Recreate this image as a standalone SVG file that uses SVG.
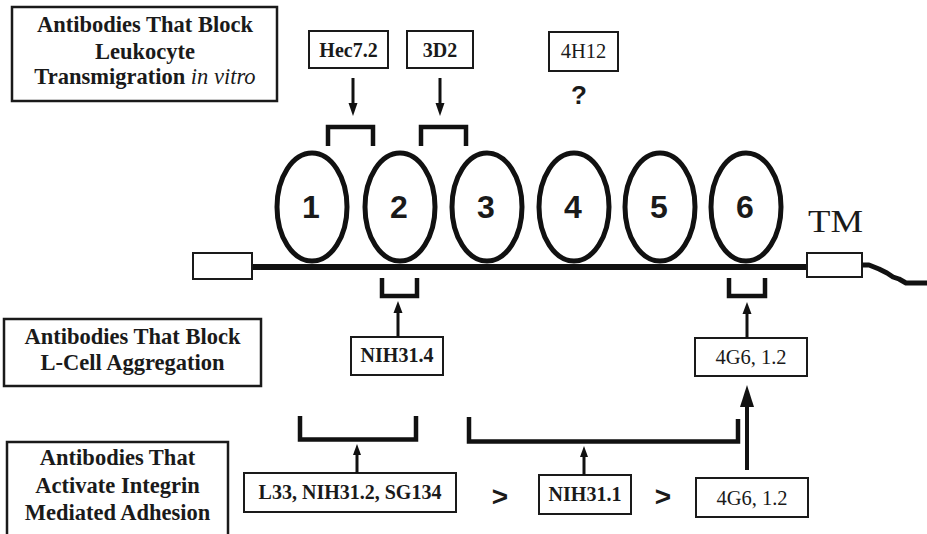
<svg xmlns="http://www.w3.org/2000/svg" width="927" height="534" viewBox="0 0 927 534">
  <style>
    .box { fill: #fff; stroke: #1a1a1a; stroke-width: 2; }
    .title-box { fill: #fff; stroke: #1a1a1a; stroke-width: 2.5; }
    .title { font-family: "Liberation Serif", "Times New Roman", serif; font-weight: bold; font-size: 22.5px; fill: #1a1a1a; text-anchor: middle; }
    .lbl { font-family: "Liberation Serif", "Times New Roman", serif; font-weight: bold; font-size: 20px; fill: #1a1a1a; text-anchor: middle; }
    .lbl-reg { font-family: "Liberation Serif", "Times New Roman", serif; font-size: 20.5px; fill: #1a1a1a; text-anchor: middle; }
    .num { font-family: "Liberation Sans", Arial, sans-serif; font-weight: bold; font-size: 32px; fill: #1a1a1a; text-anchor: middle; }
    .sym { font-family: "Liberation Sans", Arial, sans-serif; font-weight: bold; fill: #1a1a1a; text-anchor: middle; }
    .domain { fill: none; stroke: #111; stroke-width: 5; }
    .bracket { fill: none; stroke: #111; stroke-width: 4.5; stroke-linejoin: miter; stroke-linecap: butt; }
    .shaft { stroke: #111; stroke-width: 3; }
    .shaft-big { stroke: #111; stroke-width: 4; }
    .head { fill: #111; }
  </style>

  <rect width="927" height="534" fill="#fff"/>

  <!-- category headings -->
  <g id="heading-transmigration">
    <rect class="title-box" x="12" y="7" width="265" height="94"/>
    <text class="title" x="145" y="32">Antibodies That Block</text>
    <text class="title" x="145" y="59">Leukocyte</text>
    <text class="title" x="145" y="84">Transmigration <tspan font-style="italic" font-weight="normal">in vitro</tspan></text>
  </g>
  <g id="heading-aggregation">
    <rect class="title-box" x="4" y="319" width="257" height="67"/>
    <text class="title" x="132.5" y="344">Antibodies That Block</text>
    <text class="title" x="132.5" y="370">L-Cell Aggregation</text>
  </g>
  <g id="heading-integrin">
    <rect class="title-box" x="7" y="442" width="221" height="100"/>
    <text class="title" x="117.5" y="465">Antibodies That</text>
    <text class="title" x="117.5" y="493">Activate Integrin</text>
    <text class="title" x="117.5" y="520">Mediated Adhesion</text>
  </g>

  <!-- PECAM-1 backbone: cytoplasmic stub, membrane line, TM segment and tail -->
  <g id="backbone">
    <line x1="252" y1="267" x2="807" y2="267" stroke="#111" stroke-width="6"/>
    <rect class="box" x="193" y="253" width="59" height="26" stroke-width="2.5"/>
    <rect class="box" x="807" y="253" width="55" height="24" stroke-width="2.5"/>
    <path d="M862,265 H869 L879,269 L887,273 L893,277 L899,279 L906,283 H927" fill="none" stroke="#111" stroke-width="5" stroke-linejoin="round"/>
    <text x="835.5" y="232" font-family="Liberation Serif, 'Times New Roman', serif" font-size="31" fill="#1a1a1a" text-anchor="middle" textLength="55" lengthAdjust="spacingAndGlyphs">TM</text>
  </g>

  <!-- Ig-like domains -->
  <g id="domain-1"><ellipse class="domain" cx="312" cy="207" rx="35" ry="54"/><text class="num" x="311" y="218">1</text></g>
  <g id="domain-2"><ellipse class="domain" cx="400" cy="207" rx="35" ry="54"/><text class="num" x="399" y="218">2</text></g>
  <g id="domain-3"><ellipse class="domain" cx="487" cy="207" rx="35" ry="54"/><text class="num" x="486" y="218">3</text></g>
  <g id="domain-4"><ellipse class="domain" cx="574" cy="207" rx="35" ry="54"/><text class="num" x="573" y="218">4</text></g>
  <g id="domain-5"><ellipse class="domain" cx="660" cy="207" rx="35" ry="54"/><text class="num" x="659" y="218">5</text></g>
  <g id="domain-6"><ellipse class="domain" cx="746" cy="207" rx="35" ry="54"/><text class="num" x="745" y="218">6</text></g>

  <!-- antibody labels -->
  <g id="ab-hec72"><rect class="box" x="309" y="31" width="79" height="37"/><text class="lbl" x="348.5" y="57">Hec7.2</text></g>
  <g id="ab-3d2"><rect class="box" x="407" y="31" width="66" height="37"/><text class="lbl" x="440" y="57">3D2</text></g>
  <g id="ab-4h12"><rect class="box" x="549" y="32" width="69" height="39"/><text class="lbl-reg" x="583.5" y="58" font-size="19">4H12</text>
    <text class="sym" x="579" y="104" font-size="26">?</text></g>
  <g id="ab-nih314"><rect class="box" x="351" y="337" width="92" height="38"/><text class="lbl" x="397" y="362">NIH31.4</text></g>
  <g id="ab-4g6-top"><rect class="box" x="695" y="338" width="112" height="38"/><text class="lbl-reg" x="751" y="364">4G6, 1.2</text></g>
  <g id="ab-l33"><rect class="box" x="244" y="473" width="212" height="39"/><text class="lbl" x="350" y="499">L33, NIH31.2, SG134</text></g>
  <g id="ab-nih311"><rect class="box" x="539" y="475" width="92" height="39"/><text class="lbl" x="585" y="501">NIH31.1</text></g>
  <g id="ab-4g6-bottom"><rect class="box" x="696" y="478" width="112" height="39"/><text class="lbl-reg" x="752" y="505">4G6, 1.2</text></g>

  <!-- potency ranking -->
  <g id="rank">
    <text class="sym" x="500" y="506" font-size="28">&gt;</text>
    <text class="sym" x="663" y="506" font-size="28">&gt;</text>
  </g>

  <!-- brackets and arrows linking antibodies to domains -->
  <g id="connectors">
    <path class="bracket" d="M328,146 V127 H373 V146" stroke-width="4"/>
    <path class="bracket" d="M421,146 V127 H466 V146" stroke-width="4"/>
    <path class="bracket" d="M382,278 V296 H417 V278" stroke-width="4"/>
    <path class="bracket" d="M729,278 V296 H765 V278" stroke-width="4"/>
    <path class="bracket" d="M300,416 V439.5 H416 V416" stroke-width="5"/>
    <path class="bracket" d="M469,417 V441.5 H738 V419" stroke-width="5"/>

    <line class="shaft" x1="353" y1="78" x2="353" y2="104"/>
    <polygon class="head" points="348.5,103 357.5,103 353,116"/>
    <line class="shaft" x1="440" y1="78" x2="440" y2="104"/>
    <polygon class="head" points="435.5,103 444.5,103 440,116"/>

    <line class="shaft" x1="398" y1="337" x2="398" y2="312"/>
    <polygon class="head" points="393.5,313 402.5,313 398,301"/>
    <line class="shaft" x1="747" y1="338" x2="747" y2="313"/>
    <polygon class="head" points="742.5,314 751.5,314 747,302"/>

    <line class="shaft" x1="357" y1="473" x2="357" y2="454"/>
    <polygon class="head" points="353,455 361,455 357,444"/>
    <line class="shaft" x1="584" y1="475" x2="584" y2="456"/>
    <polygon class="head" points="580,457 588,457 584,446"/>

    <line class="shaft-big" x1="747" y1="470" x2="747" y2="404"/>
    <polygon class="head" points="740,407 754,407 747,385"/>
  </g>
</svg>
